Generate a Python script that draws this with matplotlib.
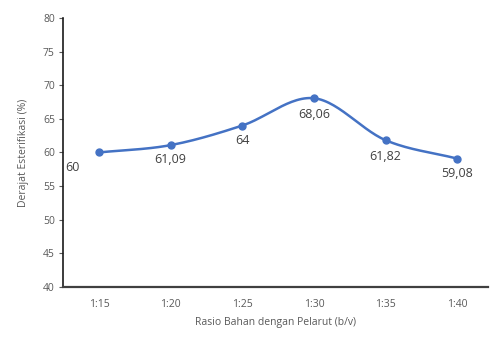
import numpy as np
import matplotlib
matplotlib.use("Agg")
import matplotlib.pyplot as plt

plt.rcParams['font.family'] = ['Open Sans', 'DejaVu Sans']

# rasio bahan : pelarut dan derajat esterifikasi
rasio = ['1:15', '1:20', '1:25', '1:30', '1:35', '1:40']
derajat = [60, 61.09, 64, 68.06, 61.82, 59.08]
label_teks = ['60', '61,09', '64', '68,06', '61,82', '59,08']
label_geser = [(-19, -11), (0, -10.5), (0, -10.5), (0, -11.5), (0, -12), (0, -11)]

warna = '#4472C4'


def garis_halus(x, y, n=30):
    # kurva Catmull-Rom seperti garis "smoothed" di Excel
    x = np.asarray(x, float)
    y = np.asarray(y, float)
    px = np.concatenate([[2 * x[0] - x[1]], x, [2 * x[-1] - x[-2]]])
    py = np.concatenate([[2 * y[0] - y[1]], y, [2 * y[-1] - y[-2]]])
    xs, ys = [], []
    t = np.linspace(0, 1, n)
    for i in range(1, len(px) - 2):
        for p, out in ((px, xs), (py, ys)):
            p0, p1, p2, p3 = p[i - 1], p[i], p[i + 1], p[i + 2]
            seg = 0.5 * ((2 * p1) + (-p0 + p2) * t
                         + (2 * p0 - 5 * p1 + 4 * p2 - p3) * t ** 2
                         + (-p0 + 3 * p1 - 3 * p2 + p3) * t ** 3)
            out.extend(seg)
    return np.array(xs), np.array(ys)


fig = plt.figure(figsize=(4.9, 3.38), dpi=100)
ax = fig.add_axes([0.129, 0.151, 0.867, 0.796])

x = np.arange(len(rasio))
hx, hy = garis_halus(x, derajat)
ax.plot(hx, hy, color=warna, lw=1.8, solid_capstyle='round')
ax.plot(x, derajat, 'o', color=warna, ms=5)

for xi, yi, teks, (dx, dy) in zip(x, derajat, label_teks, label_geser):
    ax.annotate(teks, (xi, yi), xytext=(dx, dy), textcoords='offset points',
                ha='center', va='center', fontsize=9, color='#404040')

ax.set_ylim(40, 80)
ax.set_yticks(range(40, 81, 5))
ax.set_xlim(-0.5, 5.43)
ax.set_xticks(x)
ax.set_xticklabels(rasio)

for s in ['top', 'right']:
    ax.spines[s].set_visible(False)
ax.spines['left'].set_color('#1a1a1a')
ax.spines['left'].set_linewidth(1.2)
ax.spines['bottom'].set_color('#404040')
ax.spines['bottom'].set_linewidth(1.6)

ax.tick_params(axis='y', length=3, width=0.8, labelsize=7.5, colors='#595959', pad=3)
ax.tick_params(axis='x', length=0, labelsize=7.5, colors='#595959', pad=9)

ax.set_ylabel('Derajat Esterifikasi (%)', fontsize=7.5, color='#595959', labelpad=10)
ax.set_xlabel('Rasio Bahan dengan Pelarut (b/v)', fontsize=7.5, color='#595959', labelpad=5)

fig.savefig('out.png', dpi=100)
